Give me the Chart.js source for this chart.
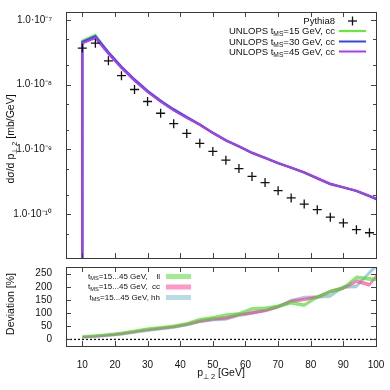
<!DOCTYPE html>
<html><head><meta charset="utf-8">
<script src="https://cdn.jsdelivr.net/npm/chart.js@4/dist/chart.umd.min.js"></script>
<style>
html,body{margin:0;padding:0;background:#fff;}
#wrap{position:relative;width:390px;height:390px;overflow:hidden;font-family:'Liberation Sans',Arial,sans-serif;color:#111;}
canvas{position:absolute;left:0;}
#c1{top:0;}
#c2{top:255px;}
.t{position:absolute;font-size:9.5px;white-space:nowrap;line-height:10px;}
.s{font-size:8px;}
.a{font-size:10.5px;}
.r{text-align:right;}
sub{font-size:70%;vertical-align:baseline;position:relative;top:0.35em;line-height:0;}
</style></head><body>
<div id="wrap">
<canvas id="c1" width="390" height="270" style="width:390px;height:270px"></canvas>
<canvas id="c2" width="390" height="135" style="width:390px;height:135px"></canvas>

<div class="t r" style="right:55px;top:16px;">Pythia8</div>
<div class="t r" style="right:55px;top:26px;">UNLOPS t<sub>MS</sub>=15 GeV, cc</div>
<div class="t r" style="right:55px;top:36.5px;">UNLOPS t<sub>MS</sub>=30 GeV, cc</div>
<div class="t r" style="right:55px;top:46.5px;">UNLOPS t<sub>MS</sub>=45 GeV, cc</div>

<div class="t r s" style="right:230px;top:271.5px;">t<sub>MS</sub>=15...45 GeV,&nbsp;&nbsp;&nbsp;&nbsp;ll</div>
<div class="t r s" style="right:230px;top:282px;">t<sub>MS</sub>=15...45 GeV,&nbsp;&nbsp;cc</div>
<div class="t r s" style="right:230px;top:292.5px;">t<sub>MS</sub>=15...45 GeV, hh</div>

<div class="t a" style="left:10px;top:139px;transform:translate(-50%,-50%) rotate(-90deg);">d&sigma;/d p<sub>&perp; 2</sub> [mb/GeV]</div>
<div class="t a" style="left:10px;top:304px;transform:translate(-50%,-50%) rotate(-90deg);">Deviation [%]</div>
<div class="t a" style="left:221px;top:372px;transform:translate(-50%,-50%);">p<sub>&perp; 2</sub> [GeV]</div>
</div>
<script>
// ---------- data ----------
const pT = [10,14,18,22,26,30,34,38,42,46,50,54,58,62,66,70,74,78,82,86,90,94,98];
const pythia8 = [3.66e-8,4.35e-8,2.33e-8,1.37e-8,8.4e-9,5.48e-9,3.61e-9,2.49e-9,1.76e-9,1.24e-9,9.3e-10,6.8e-10,5.05e-10,3.82e-10,3.07e-10,2.3e-10,1.78e-10,1.43e-10,1.17e-10,8.98e-11,7.3e-11,5.75e-11,5.15e-11];

const unlopsX = [10,10,14,18,22,26,30,34,38,42,46,50,54,58,62,66,70,74,78,82,86,90,94,98,102];
const unlops15 = [1e-11,4.75e-8,5.85e-8,3.12e-8,1.84e-8,1.17e-8,7.8e-9,5.5e-9,4.05e-9,3.1e-9,2.4e-9,1.8e-9,1.37e-9,1.12e-9,8.85e-10,7.4e-10,6.15e-10,5.2e-10,4.35e-10,3.58e-10,2.95e-10,2.6e-10,2.28e-10,1.9e-10,1.57e-10];
const unlops30 = [1e-11,4.55e-8,5.55e-8,3.15e-8,1.88e-8,1.2e-8,8.0e-9,5.65e-9,4.15e-9,3.15e-9,2.42e-9,1.8e-9,1.38e-9,1.11e-9,8.8e-10,7.35e-10,6.1e-10,5.2e-10,4.4e-10,3.55e-10,2.9e-10,2.58e-10,2.27e-10,1.88e-10,1.56e-10];
const unlops45 = [1e-11,4.35e-8,5.25e-8,3.0e-8,1.8e-8,1.15e-8,7.7e-9,5.45e-9,4.0e-9,3.08e-9,2.4e-9,1.79e-9,1.37e-9,1.12e-9,8.9e-10,7.4e-10,6.15e-10,5.25e-10,4.42e-10,3.6e-10,2.93e-10,2.6e-10,2.3e-10,1.92e-10,1.6e-10];

const devX = [10,14,18,22,26,30,34,38,42,46,50,54,58,62,66,70,74,78,82,86,90,94,98,102];
const llLow  = [8,11,15,20,28,35,41,46,55,70,77,87,92,111,113,121,134,125,156,176,190,230,224,221];
const llHigh = [15,18,22,28,36,44,49,55,64,80,87,97,102,121,123,131,145,135,166,187,201,241,235,232];
const ccLow  = [6,9,13,18,26,33,39,44,53,65,73,77,90,97,105,119,140,147,155,177,190,216,202,262];
const ccHigh = [12,15,20,25,33,40,46,52,61,74,82,87,99,106,114,129,150,156,165,187,200,227,213,276];
const hhLow  = [4,7,11,16,23,30,36,42,51,63,70,73,87,95,105,119,142,154,156,160,194,196,248,295];
const hhHigh = [10,13,18,23,30,37,43,50,59,72,79,82,96,104,114,129,152,164,166,171,204,207,260,310];
const zeroX = [5,100];
const zeroY = [0,0];

const xTickValues = [10,20,30,40,50,60,70,80,90,100];
const yTickValues = [1e-10,1e-9,1e-8,1e-7];
const yTickLabels = ['1.0\u00b710\u207b\u00b9\u2070','1.0\u00b710\u207b\u2079','1.0\u00b710\u207b\u2078','1.0\u00b710\u207b\u2077'];
const yMinorValues = [5e-11,2e-10,5e-10,2e-9,5e-9,2e-8,5e-8];
const devTickValues = [0,50,100,150,200,250];

// ---------- helpers ----------
const pts = (xs, ys) => xs.map((x, i) => ({x, y: ys[i]}));
const FONT = {family: "'Liberation Sans', Arial, sans-serif", size: 10};
const TXT = '#111';
const GREEN = '#5ef02a', BLUE = '#2a46ff', PURPLE = '#aa3cf0';
const BAND_LL = 'rgba(70,220,40,0.62)', BAND_CC = 'rgba(255,50,145,0.58)', BAND_HH = 'rgba(100,175,200,0.58)';
const SW_LL = 'rgba(70,220,40,0.5)', SW_CC = 'rgba(255,50,145,0.5)', SW_HH = 'rgba(100,175,200,0.45)';

const frame = {
  id: 'frame',
  afterDatasetsDraw(chart, args, o) {
    const {ctx, chartArea: a, scales} = chart;
    const line = (x1, y1, x2, y2) => { ctx.beginPath(); ctx.moveTo(x1, y1); ctx.lineTo(x2, y2); ctx.stroke(); };
    ctx.save();
    ctx.strokeStyle = '#444'; ctx.lineWidth = 1;
    (o.xMajor || []).forEach(v => {
      const p = Math.round(scales.x.getPixelForValue(v)) + 0.5;
      line(p, a.bottom, p, a.bottom - 5); line(p, a.top, p, a.top + 5);
    });
    (o.yMajor || []).forEach(v => {
      const p = Math.round(scales.y.getPixelForValue(v)) + 0.5;
      line(a.left, p, a.left + 5, p); line(a.right, p, a.right - 5, p);
    });
    (o.yMinor || []).forEach(v => {
      const p = Math.round(scales.y.getPixelForValue(v)) + 0.5;
      line(a.left, p, a.left + 3, p); line(a.right, p, a.right - 3, p);
    });
    ctx.strokeStyle = '#3a3a3a';
    ctx.strokeRect(Math.round(a.left) + 0.5, Math.round(a.top) + 0.5, Math.round(a.right - a.left), Math.round(a.bottom - a.top));
    // legend samples
    const ds = chart.data.datasets;
    (o.samples || []).forEach(s => {
      const d = ds[s.ds];
      if (s.kind === 'cross') {
        ctx.strokeStyle = d.borderColor; ctx.lineWidth = 1.3;
        line(s.x - 4.5, s.y, s.x + 4.5, s.y); line(s.x, s.y - 4.5, s.x, s.y + 4.5);
      } else if (s.kind === 'line') {
        ctx.strokeStyle = d.borderColor; ctx.lineWidth = 2;
        line(s.x, s.y, s.x + s.w, s.y);
      } else {
        ctx.fillStyle = s.color;
        ctx.fillRect(s.x, s.y - 2.5, s.w, 5);
      }
    });
    ctx.restore();
  }
};

// ---------- upper chart ----------
new Chart(document.getElementById('c1'), {
  type: 'line',
  data: {datasets: [
    {label: 'Pythia8', data: pts(pT, pythia8), showLine: false, pointStyle: 'cross', pointRadius: 4.5,
     pointBorderWidth: 1.3, borderColor: '#111', backgroundColor: '#111', order: 0},
    {label: 'UNLOPS tMS=15 GeV, cc', data: pts(unlopsX, unlops15), borderColor: GREEN, borderWidth: 2.2, pointRadius: 0, fill: false, tension: 0, order: 3},
    {label: 'UNLOPS tMS=30 GeV, cc', data: pts(unlopsX, unlops30), borderColor: BLUE, borderWidth: 2.2, pointRadius: 0, fill: false, tension: 0, order: 2},
    {label: 'UNLOPS tMS=45 GeV, cc', data: pts(unlopsX, unlops45), borderColor: PURPLE, borderWidth: 2.2, pointRadius: 0, fill: false, tension: 0, order: 1}
  ]},
  options: {
    responsive: false, animation: false, devicePixelRatio: 1,
    layout: {padding: {top: 11, right: 14, bottom: 7, left: 0}},
    plugins: {
      legend: {display: false}, tooltip: {enabled: false},
      frame: {xMajor: xTickValues, yMajor: yTickValues, yMinor: yMinorValues,
        samples: [
          {ds: 0, kind: 'cross', x: 352.5, y: 21},
          {ds: 1, kind: 'line', x: 339, y: 31, w: 27},
          {ds: 2, kind: 'line', x: 339, y: 41.5, w: 27},
          {ds: 3, kind: 'line', x: 339, y: 51.5, w: 27}
        ]}
    },
    scales: {
      x: {type: 'linear', min: 5, max: 100, ticks: {display: false}, grid: {display: false}, border: {display: false},
          afterFit(s) { s.height = 0; }},
      y: {type: 'logarithmic', min: 2.1e-11, max: 1.32e-7, grid: {display: false}, border: {display: false},
          afterFit(s) { s.width = 66; },
          afterBuildTicks(s) { s.ticks = yTickValues.map(v => ({value: v})); },
          ticks: {font: FONT, color: TXT, padding: 6,
                  callback: (v) => { const i = yTickValues.findIndex(t => Math.abs(t - v) / t < 1e-6); return i >= 0 ? yTickLabels[i] : ''; }}}
    }
  },
  plugins: [frame]
});

// ---------- lower chart ----------
const band = (lo, hi, col, lab) => [
  {label: lab + ' low', data: pts(devX, lo), borderColor: col, borderWidth: 0.8, pointRadius: 0, fill: false, tension: 0, backgroundColor: col},
  {label: lab, data: pts(devX, hi), borderColor: col, borderWidth: 0.8, pointRadius: 0, fill: '-1', tension: 0, backgroundColor: col}
];
new Chart(document.getElementById('c2'), {
  type: 'line',
  data: {datasets: [
    ...band(llLow, llHigh, BAND_LL, 'tMS=15...45 GeV, ll'),
    ...band(ccLow, ccHigh, BAND_CC, 'tMS=15...45 GeV, cc'),
    ...band(hhLow, hhHigh, BAND_HH, 'tMS=15...45 GeV, hh'),
    {label: 'zero', data: pts(zeroX, zeroY), borderColor: '#111', borderWidth: 1.3, borderDash: [2, 2], pointRadius: 0, fill: false}
  ]},
  options: {
    responsive: false, animation: false, devicePixelRatio: 1,
    layout: {padding: {top: 8, right: 14, bottom: 0, left: 0}},
    plugins: {
      legend: {display: false}, tooltip: {enabled: false},
      filler: {propagate: false},
      frame: {xMajor: xTickValues, yMajor: devTickValues,
        samples: [
          {ds: 1, kind: 'box', x: 166, y: 21.5, w: 25, color: SW_LL},
          {ds: 3, kind: 'box', x: 166, y: 32, w: 25, color: SW_CC},
          {ds: 5, kind: 'box', x: 166, y: 42.5, w: 25, color: SW_HH}
        ]}
    },
    scales: {
      x: {type: 'linear', min: 5, max: 100, grid: {display: false}, border: {display: false},
          afterFit(s) { s.height = 44; },
          afterBuildTicks(s) { s.ticks = xTickValues.map(v => ({value: v})); },
          ticks: {font: FONT, color: TXT, padding: 5, maxRotation: 0, autoSkip: false}},
      y: {type: 'linear', min: -25, max: 275, grid: {display: false}, border: {display: false},
          afterFit(s) { s.width = 66; },
          afterBuildTicks(s) { s.ticks = devTickValues.map(v => ({value: v})); },
          ticks: {font: FONT, color: TXT, padding: 6}}
    }
  },
  plugins: [frame]
});
</script>
</body></html>
